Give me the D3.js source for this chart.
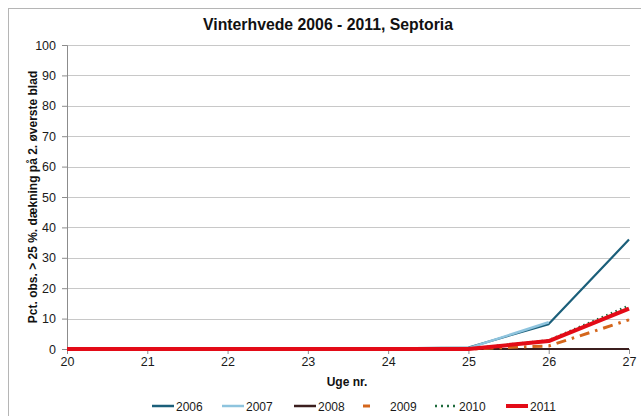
<!DOCTYPE html>
<html><head><meta charset="utf-8">
<script src="https://cdn.jsdelivr.net/npm/d3@7"></script>
<style>body{margin:0;background:#fff}svg{display:block;font-family:"Liberation Sans",Arial,sans-serif}</style>
</head><body><svg id="c" width="641" height="416"></svg>
<script>
const weeks = [20,21,22,23,24,25,26,27];
const s2006 = [0,0,0,0,0.2,0.5,8.2,36];
const s2007 = [0,0,0,0,0.1,0.3,8.8,null];
const s2008 = [0,0,0,0,0,0,0,0];
const s2009 = [0,0,0,0,0,0,1,9.6];
const s2010 = [0,0,0,0,0,0,2.8,14.2];
const s2011 = [0,0,0,0,0,0,2.6,13.3];
const yTicks = [0,10,20,30,40,50,60,70,80,90,100];
const seriesNames = ["2006","2007","2008","2009","2010","2011"];
const seriesColors = ["#1b5f7a","#8ec4de","#3b1e1e","#d4661c","#1d6a3b","#e30b17"];
const seriesWidths = [2.2,2.5,2.2,3,2.8,4];
const seriesDash = [null,null,null,"10,6,2.5,6",  "1.5,3.5", null];
const seriesData = [s2006,s2007,s2008,s2009,s2010,s2011];

const svg = d3.select("#c");
svg.append("rect").attr("x",8.5).attr("y",8.5).attr("width",700).attr("height",500)
  .attr("fill","none").attr("stroke","#b5b5b5");

const x = d3.scaleLinear().domain([20,27]).range([67,629]);
const y = d3.scaleLinear().domain([0,100]).range([349,45]);

// gridlines
svg.append("g").selectAll("line").data(yTicks.filter(d=>d>0)).join("line")
  .attr("x1",x(20)).attr("x2",630).attr("y1",d=>Math.round(y(d))+0.5).attr("y2",d=>Math.round(y(d))+0.5)
  .attr("stroke","#c8c8c8").attr("stroke-width",1);

// y axis
const ya = svg.append("g").attr("transform",`translate(${x(20)},0)`)
  .call(d3.axisLeft(y).tickValues(yTicks).tickSize(5).tickPadding(6));
ya.select(".domain").attr("stroke","#8c8c8c");
ya.selectAll(".tick line").attr("stroke","#8c8c8c");
ya.selectAll("text").attr("font-size",12.5).attr("fill","#1a1a1a").attr("font-family","Liberation Sans, Arial, sans-serif");

// x axis
const xa = svg.append("g").attr("transform",`translate(0,${y(0)})`)
  .call(d3.axisBottom(x).tickValues(weeks).tickFormat(d3.format("d")).tickSize(5).tickPadding(3));
xa.select(".domain").attr("stroke","#8c8c8c");
xa.selectAll(".tick line").attr("stroke","#8c8c8c");
xa.selectAll("text").attr("font-size",12.5).attr("fill","#1a1a1a").attr("font-family","Liberation Sans, Arial, sans-serif");

// lines
const line = d3.line().defined(d=>d[1]!=null).x(d=>x(d[0])).y(d=>y(d[1]));
seriesData.forEach((s,i)=>{
  svg.append("path").datum(weeks.map((w,j)=>[w,s[j]]))
    .attr("d",line).attr("fill","none").attr("stroke",seriesColors[i])
    .attr("stroke-width",seriesWidths[i]).attr("stroke-dasharray",seriesDash[i])
    .attr("stroke-linejoin","round");
});

// titles
svg.append("text").attr("x",328).attr("y",30).attr("text-anchor","middle")
  .attr("font-size",15.8).attr("font-weight","bold").attr("fill","#111").text("Vinterhvede 2006 - 2011, Septoria");
svg.append("text").attr("transform",`translate(37,${197}) rotate(-90)`).attr("text-anchor","middle")
  .attr("font-size",12).attr("font-weight","bold").attr("fill","#111")
  .text("Pct. obs. > 25 %. dækning på 2. øverste blad");
svg.append("text").attr("x",347).attr("y",386).attr("text-anchor","middle")
  .attr("font-size",12).attr("font-weight","bold").attr("fill","#111").text("Uge nr.");

// legend
const legX = [152,222,294,358,435,506];
const lg = svg.append("g");
seriesNames.forEach((n,i)=>{
  const g = lg.append("g").attr("transform",`translate(${legX[i]},406)`);
  if(i===3){
    g.append("line").attr("x1",5).attr("x2",12).attr("y1",0).attr("y2",0)
      .attr("stroke",seriesColors[i]).attr("stroke-width",3);
    g.append("text").attr("x",32).attr("y",4.5).attr("font-size",12).attr("fill","#1a1a1a").text(n);
  } else {
    g.append("line").attr("x1",0).attr("x2",22).attr("y1",0).attr("y2",0)
      .attr("stroke",seriesColors[i]).attr("stroke-width",i===5?4:2.5)
      .attr("stroke-dasharray",i===4?"2,4":null);
    g.append("text").attr("x",24).attr("y",4.5).attr("font-size",12).attr("fill","#1a1a1a").text(n);
  }
});
</script></body></html>
